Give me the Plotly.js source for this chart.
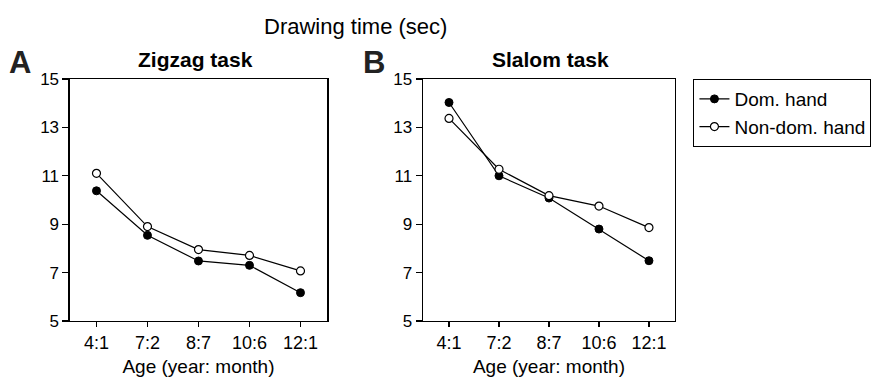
<!DOCTYPE html>
<html>
<head>
<meta charset="utf-8">
<script src="https://cdn.plot.ly/plotly-3.0.1.min.js"></script>
<style>html,body{margin:0;padding:0;background:#fff;}#chart{width:880px;height:380px;}</style>
</head>
<body>
<div id="chart"></div>
<script>
const ages = ["4:1", "7:2", "8:7", "10:6", "12:1"];
const zigzagDom = [10.38, 8.54, 7.48, 7.30, 6.17];
const zigzagNonDom = [11.10, 8.90, 7.95, 7.71, 7.07];
const slalomDom = [14.03, 11.00, 10.08, 8.80, 7.49];
const slalomNonDom = [13.37, 11.27, 10.18, 9.75, 8.86];
const seriesNames = ["Dom. hand", "Non-dom. hand"];
const yTicks = [5, 7, 9, 11, 13, 15];

const FONT = "Liberation Sans, Arial, Helvetica, sans-serif";
const domStyle = {color: "#000", size: 8, line: {color: "#000", width: 1}};
const nonDomStyle = {color: "#fff", size: 8, line: {color: "#000", width: 1.2}};
const lineStyle = {color: "#000", width: 1.2};

const traces = [
  {x: ages, y: zigzagDom, name: seriesNames[0], mode: "lines+markers", marker: domStyle, line: lineStyle, xaxis: "x", yaxis: "y", legendgroup: "a", showlegend: true},
  {x: ages, y: zigzagNonDom, name: seriesNames[1], mode: "lines+markers", marker: nonDomStyle, line: lineStyle, xaxis: "x", yaxis: "y", legendgroup: "b", showlegend: true},
  {x: ages, y: slalomDom, name: seriesNames[0], mode: "lines+markers", marker: domStyle, line: lineStyle, xaxis: "x2", yaxis: "y2", legendgroup: "a", showlegend: false},
  {x: ages, y: slalomNonDom, name: seriesNames[1], mode: "lines+markers", marker: nonDomStyle, line: lineStyle, xaxis: "x2", yaxis: "y2", legendgroup: "b", showlegend: false}
];

function xAx(domain) {
  return {
    domain: domain, type: "category", range: [-0.52, 4.52],
    showline: true, linecolor: "#000", linewidth: 1.5, mirror: true,
    ticks: "outside", ticklen: 5, tickwidth: 1.2, tickcolor: "#000",
    showgrid: false, zeroline: false,
    tickfont: {family: FONT, size: 18, color: "#000"},
    title: {text: "Age (year: month)", font: {family: FONT, size: 19, color: "#000"}, standoff: 7}
  };
}
function yAx(anchor) {
  return {
    domain: [0.1553, 0.7921], range: [5, 15], tickvals: yTicks, anchor: anchor,
    showline: true, linecolor: "#000", linewidth: 1.5, mirror: true,
    ticks: "outside", ticklen: 6, tickwidth: 1.2, tickcolor: "#000",
    showgrid: false, zeroline: false,
    tickfont: {family: FONT, size: 17, color: "#000"}
  };
}

const layout = {
  width: 880, height: 380,
  margin: {l: 0, r: 0, t: 0, b: 0},
  paper_bgcolor: "#fff", plot_bgcolor: "#fff",
  font: {family: FONT, color: "#000"},
  title: {text: "Drawing time (sec)", font: {family: FONT, size: 22, color: "#000"}, x: 264/880, xanchor: "left", y: 1 - 26/380, yanchor: "middle"},
  xaxis: Object.assign(xAx([0.0795, 0.3716]), {anchor: "y"}),
  yaxis: yAx("x"),
  xaxis2: Object.assign(xAx([0.4807, 0.767]), {anchor: "y2"}),
  yaxis2: yAx("x2"),
  showlegend: true,
  legend: {
    x: 0.788, y: 0.792, xanchor: "left", yanchor: "top",
    bordercolor: "#000", borderwidth: 1, bgcolor: "#fff",
    font: {family: FONT, size: 19, color: "#000"},
    traceorder: "grouped", tracegroupgap: 0
  },
  annotations: [
    {text: "<b>Zigzag task</b>", xref: "paper", yref: "paper", x: 195.5/880, y: 1 - 59/380, xanchor: "center", yanchor: "middle", showarrow: false, font: {family: FONT, size: 21, color: "#000"}},
    {text: "<b>Slalom task</b>", xref: "paper", yref: "paper", x: 550.5/880, y: 1 - 59/380, xanchor: "center", yanchor: "middle", showarrow: false, font: {family: FONT, size: 21, color: "#000"}},
    {text: "<b>A</b>", xref: "paper", yref: "paper", x: 20/880, y: 1 - 62/380, xanchor: "center", yanchor: "middle", showarrow: false, font: {family: FONT, size: 31, color: "#222"}},
    {text: "<b>B</b>", xref: "paper", yref: "paper", x: 374/880, y: 1 - 62/380, xanchor: "center", yanchor: "middle", showarrow: false, font: {family: FONT, size: 31, color: "#222"}}
  ]
};

Plotly.newPlot("chart", traces, layout, {staticPlot: true, displayModeBar: false});
</script>
</body>
</html>
